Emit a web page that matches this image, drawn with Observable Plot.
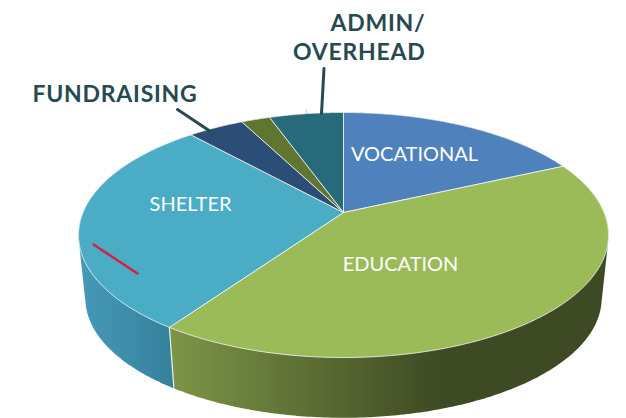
<!DOCTYPE html>
<html>
<head>
<meta charset="utf-8">
<script src="https://cdn.jsdelivr.net/npm/d3@7"></script>
<script src="https://cdn.jsdelivr.net/npm/@observablehq/plot@0.6"></script>
<style>html,body{margin:0;padding:0;background:#fff}svg{display:block}
g[font-weight="700"] text{letter-spacing:.75px}</style>
</head>
<body>
<div id="chart"></div>
<script>
// Data (percent of total, clockwise from 12 o'clock)
const categories = ["VOCATIONAL", "EDUCATION", "SHELTER", "FUNDRAISING", "PROGRAM", "ADMIN/\nOVERHEAD"];
const shares = [18.1, 41.5, 28.8, 4.1, 2.1, 5.4];
const topColors = ["#4f81bd", "#9bbb59", "#4bacc6", "#2c4d75", "#5f7530", "#276a7c"];
const wallColors = ["#3b618e", "url(#wallEducation)", "url(#wallShelter)", "#213a58", "#475824", "#1d4f5d"];

// Perspective view of the disc
const W = 626, H = 418;
const cx = 343, cy = 212, a = 260.5, b = 118.4, k = -0.1837;
const project = (theta, r = 1, dy = 0, s = 1) => {
  const u = r * Math.sin(theta), v = -r * Math.cos(theta), d = 1 + k * v;
  return {x: cx + s * a * u / d, y: cy + dy + s * b * v / d};
};
const depth = 64, lowerScale = 0.974;

const arcs = d3.pie().sort(null).value((d) => d.share)(
  categories.map((name, i) => ({name, share: shares[i], top: topColors[i], wall: wallColors[i]}))
);
const rim = (arc, dy = 0, s = 1) => {
  const n = Math.max(2, Math.ceil((arc.endAngle - arc.startAngle) * 90));
  return d3.range(n + 1).map((i) =>
    project(arc.startAngle + (arc.endAngle - arc.startAngle) * i / n, 1, dy, s));
};
const topPath = (arc) => {
  const c = project(0, 0);
  return [c, ...rim(arc), c];
};
// The wall of a slice is the outline swept between its upper and lower rim.
const wallPath = (arc) => {
  const hull = d3.polygonHull([...rim(arc), ...rim(arc, depth, lowerScale)].map((p) => [p.x, p.y]));
  return [...hull, hull[0]].map(([x, y]) => ({x, y}));
};
const seam = arcs[1].endAngle;

const defs = () => {
  const d = d3.create("svg:defs");
  const grad = (id, x1, x2, c1, c2) => {
    const g = d.append("linearGradient").attr("id", id)
      .attr("gradientUnits", "userSpaceOnUse")
      .attr("x1", x1).attr("x2", x2).attr("y1", 0).attr("y2", 0);
    g.append("stop").attr("offset", 0).attr("stop-color", c1);
    g.append("stop").attr("offset", 1).attr("stop-color", c2);
  };
  grad("wallEducation", 172, 440, "#7c9447", "#3e4a23");
  grad("wallShelter", 82, 176, "#4599b6", "#35809b");
  return d.node();
};

const ink = "#264a50";
const chart = Plot.plot({
  width: W, height: H, margin: 0,
  x: {domain: [0, W], range: [0, W], axis: null},
  y: {domain: [0, H], range: [0, H], axis: null},
  marks: [
    defs,
    arcs.slice().reverse().map((arc) => Plot.line(wallPath(arc), {x: "x", y: "y", fill: arc.data.wall, stroke: "none"})),
    Plot.line([project(seam, 1), project(seam, 1, depth, lowerScale)],
      {x: "x", y: "y", stroke: "#eef2ea", strokeWidth: 1.2}),
    arcs.map((arc) => Plot.line(topPath(arc),
      {x: "x", y: "y", fill: arc.data.top, stroke: "#ffffff", strokeOpacity: 0.75, strokeWidth: 1, strokeLinejoin: "round"})),
    // leader lines
    Plot.line([{x: 177, y: 109}, {x: 210, y: 131}], {x: "x", y: "y", stroke: ink, strokeWidth: 3}),
    Plot.line([{x: 323.5, y: 68}, {x: 321, y: 113}], {x: "x", y: "y", stroke: ink, strokeWidth: 3}),
    // red mark on the shelter slice
    Plot.line([{x: 93, y: 244}, {x: 137, y: 273}], {x: "x", y: "y", stroke: "#d8203f", strokeWidth: 2.5}),
    // small grey tick above the rim
    Plot.line([{x: 306, y: 109}, {x: 306, y: 113}], {x: "x", y: "y", stroke: "#cfcfcf", strokeWidth: 1}),
    // labels inside slices
    Plot.text([
      {t: categories[0], x: 414, y: 154},
      {t: categories[2], x: 190, y: 204},
      {t: categories[1], x: 400, y: 264}
    ], {x: "x", y: "y", text: "t", fill: "#ffffff", fontSize: 20, fontFamily: "Lato", textAnchor: "middle", lineAnchor: "middle"}),
    // outside labels
    Plot.text([{t: categories[3], x: 32, y: 94}], {x: "x", y: "y", text: "t", fill: ink, fontSize: 23, fontWeight: 700, fontFamily: "Lato", textAnchor: "start", lineAnchor: "middle"}),
    Plot.text([{t: categories[5], x: 425, y: 36}], {x: "x", y: "y", text: "t", fill: ink, fontSize: 23, lineHeight: 1.27, fontWeight: 700, fontFamily: "Lato", textAnchor: "end", lineAnchor: "middle"})
  ]
});
document.getElementById("chart").append(chart);
</script>
</body>
</html>
